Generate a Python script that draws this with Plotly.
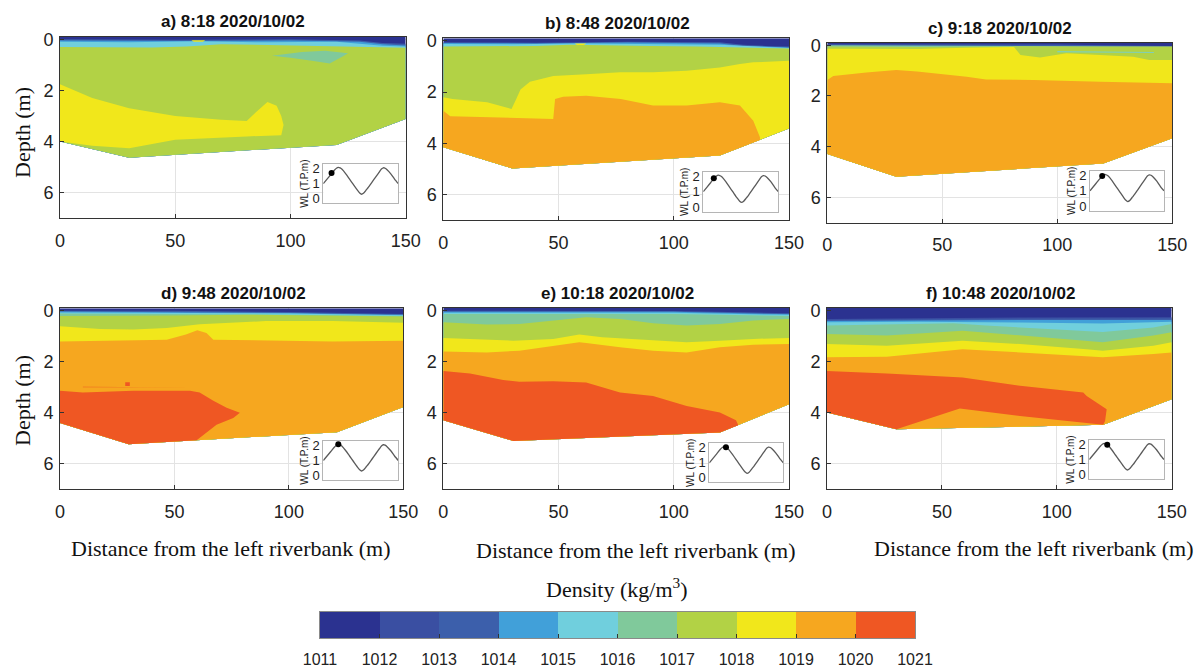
import plotly.graph_objects as go

W, H = 1203, 671          # browser window
OFF = 8                   # page body margin
FW, FH = W - OFF, H - OFF  # figure size that fits in the window
S = -0.1  # water surface (top of each section)

levels = [1011, 1012, 1013, 1014, 1015, 1016, 1017, 1018, 1019, 1020]
level_colors = ['#2b3290', '#3a4fa2', '#3c5fab', '#41a0d9', '#70cfdd',
                '#80c99b', '#b2d245', '#f1e71b', '#f6a71f', '#ef5723']
cbar_ticks = [1011, 1012, 1013, 1014, 1015, 1016, 1017, 1018, 1019, 1020, 1021]

titles = ['a) 8:18 2020/10/02', 'b) 8:48 2020/10/02', 'c) 9:18 2020/10/02',
          'd) 9:48 2020/10/02', 'e) 10:18 2020/10/02', 'f) 10:48 2020/10/02']

# tide curve shown in the insets
tide_t = [0, 1, 2, 3, 3.5, 4, 4.5, 5, 6, 7, 8, 9, 9.7, 10.2, 10.7, 11.5, 12, 13,
          14, 15, 15.5, 16, 16.5, 17, 18, 19, 20]
tide_wl = [1.0, 1.3, 1.6, 1.9, 2.02, 2.08, 2.04, 1.95, 1.65, 1.3, 0.95, 0.6, 0.38, 0.3, 0.36,
           0.6, 0.75, 1.1, 1.45, 1.8, 1.97, 2.05, 2.02, 1.92, 1.65, 1.3, 1.0]
dot_t = [2.2, 2.8, 3.3, 4.0, 4.5, 4.8]
dot_wl = [1.7, 1.88, 1.98, 2.08, 2.04, 1.98]

# river bed profiles (distance m, depth m)
bed_x_a = [0, 30, 120, 150]; bed_d_a = [4.0, 4.63, 4.13, 3.12]
bed_x_b = [0, 30, 120, 150]; bed_d_b = [4.16, 4.99, 4.48, 3.42]
bed_x_c = [0, 30, 120, 150]; bed_d_c = [4.29, 5.19, 4.66, 3.67]
bed_x_d = [0, 30, 121, 150]; bed_d_d = [4.4, 5.23, 4.76, 3.77]
bed_x_e = [0, 30.4, 120, 150]; bed_d_e = [4.3, 5.11, 4.78, 3.67]
bed_x_f = [0, 30.2, 120.2, 150]; bed_d_f = [4.0, 4.65, 4.48, 3.48]

# density regions: (level, distances, depths, extends down to the bed)
regions_a = [
    (1011, [0, 150], [S, S], True),
    (1013, [0, 50, 100, 130, 140, 150], [0.0, 0.02, 0.0, 0.05, 0.15, 0.18], True),
    (1014, [0, 50, 100, 130, 140, 150], [0.05, 0.07, 0.05, 0.1, 0.2, 0.24], True),
    (1015, [0, 30, 60, 90, 120, 140, 150], [0.1, 0.12, 0.08, 0.12, 0.1, 0.25, 0.28], True),
    (1017, [0, 20, 40, 55, 70, 90, 110, 130, 150], [0.3, 0.3, 0.32, 0.28, 0.2, 0.22, 0.25, 0.3, 0.33], True),
    (1016, [92, 105, 115, 125, 123, 117, 110, 100], [0.64, 0.5, 0.45, 0.55, 0.65, 0.95, 0.85, 0.72], False),
    (1018, [57, 63, 62, 58], [0.04, 0.04, 0.1, 0.1], False),
    (1018, [0, 5, 14, 30, 50, 70, 81, 85, 90, 94, 96, 97, 96, 81, 50, 30, 14, 0],
     [1.76, 1.95, 2.3, 2.7, 3.0, 3.15, 3.2, 2.85, 2.45, 2.6, 3.0, 3.35, 3.75, 3.8, 3.93, 4.26, 4.16, 4.0], False),
]
regions_b = [
    (1011, [0, 150], [S, S], True),
    (1013, [0, 40, 80, 120, 130, 140, 150], [0.05, 0.07, 0.03, 0.05, 0.15, 0.2, 0.22], True),
    (1014, [0, 40, 80, 120, 130, 140, 150], [0.08, 0.1, 0.06, 0.1, 0.2, 0.24, 0.26], True),
    (1015, [0, 30, 60, 90, 120, 150], [0.12, 0.13, 0.1, 0.12, 0.15, 0.28], True),
    (1017, [0, 20, 40, 55, 70, 90, 110, 130, 150], [0.22, 0.22, 0.2, 0.15, 0.18, 0.2, 0.22, 0.25, 0.3], True),
    (1018, [0, 4, 19, 29.6, 31.5, 33.5, 37.6, 47.7, 62, 76.7, 91, 105.6, 120, 128.7, 134.5, 150],
     [2.2, 2.27, 2.4, 2.66, 2.3, 1.9, 1.6, 1.37, 1.3, 1.23, 1.23, 1.17, 1.04, 0.9, 0.84, 0.78], True),
    (1018, [57, 62, 61, 58], [0.1, 0.1, 0.16, 0.16], False),
    (1019, [0, 3, 47.7, 48.5, 52, 62, 77, 91, 105.6, 120, 128.7, 134.5, 137.4, 137.4, 120, 30, 0],
     [2.73, 2.95, 3.05, 2.27, 2.18, 2.14, 2.27, 2.53, 2.53, 2.4, 2.53, 3.12, 3.77, 3.87, 4.48, 4.99, 4.16], False),
]
regions_c = [
    (1011, [0, 150], [S, S], True),
    (1013, [0, 50, 100, 120, 150], [-0.04, -0.04, -0.03, 0.0, 0.03], True),
    (1016, [0, 40, 80, 150], [0.0, 0.02, 0.02, 0.06], True),
    (1017, [0, 40, 80, 150], [0.05, 0.07, 0.05, 0.09], True),
    (1018, [0, 20, 40, 60, 80, 100, 120, 150], [0.14, 0.15, 0.15, 0.1, 0.07, 0.08, 0.08, 0.1], True),
    (1017, [81, 150, 150, 140, 133, 118.6, 104, 92.5, 84], [0.05, 0.05, 0.58, 0.58, 0.45, 0.39, 0.32, 0.48, 0.39], False),
    (1015, [100, 142, 142, 100], [0.24, 0.27, 0.3, 0.28], False),
    (1019, [0, 2.6, 17, 30, 39, 60.6, 69, 89.6, 118.6, 133, 150],
     [1.37, 1.21, 1.08, 0.98, 1.04, 1.24, 1.35, 1.37, 1.44, 1.48, 1.5], True),
]
regions_d = [
    (1011, [0, 150], [S, S], True),
    (1013, [0, 50, 100, 130, 150], [0.0, 0.0, 0.05, 0.1, 0.12], True),
    (1014, [0, 50, 100, 130, 150], [0.03, 0.05, 0.08, 0.13, 0.15], True),
    (1015, [0, 50, 100, 150], [0.06, 0.08, 0.1, 0.17], True),
    (1016, [0, 50, 100, 150], [0.1, 0.12, 0.15, 0.2], True),
    (1017, [0, 20, 50, 80, 120, 150], [0.2, 0.2, 0.18, 0.15, 0.18, 0.22], True),
    (1018, [0, 17.5, 32, 46.6, 61, 90, 119, 150], [0.6, 0.71, 0.73, 0.67, 0.53, 0.4, 0.4, 0.47], True),
    (1019, [0, 17.5, 46.6, 51, 55, 60, 64, 67, 90, 119, 150],
     [1.2, 1.17, 1.13, 1.03, 0.93, 0.76, 0.87, 1.13, 1.17, 1.2, 1.17], True),
    (1020, [10, 35, 60, 60, 35, 10], [2.975, 2.985, 2.985, 3.005, 3.0, 2.995], False),
    (1020, [28.5, 30.5, 30.5, 28.5], [2.8, 2.8, 2.95, 2.95], False),
    (1020, [0, 10, 32, 56.8, 61, 67, 72.8, 78.6, 75.7, 68.4, 59.7, 30, 0],
     [3.13, 3.2, 3.13, 3.13, 3.2, 3.53, 3.8, 4.0, 4.2, 4.47, 5.08, 5.23, 4.4], False),
]
regions_e = [
    (1011, [0, 150], [S, S], True),
    (1013, [0, 50, 100, 130, 150], [0.02, 0.03, 0.03, 0.08, 0.12], True),
    (1014, [0, 50, 100, 130, 150], [0.06, 0.06, 0.06, 0.12, 0.16], True),
    (1015, [0, 50, 100, 150], [0.1, 0.1, 0.1, 0.18], True),
    (1016, [0, 50, 100, 150], [0.15, 0.15, 0.15, 0.22], True),
    (1017, [0, 18.8, 33, 47.7, 62, 76.7, 91, 105.6, 120, 134.5, 150],
     [0.47, 0.56, 0.54, 0.4, 0.27, 0.34, 0.51, 0.6, 0.54, 0.4, 0.34], True),
    (1018, [0, 18.8, 30.4, 47.7, 59, 69, 91, 105.6, 120, 134.5, 150],
     [1.08, 1.16, 1.19, 1.12, 0.95, 1.06, 1.19, 1.25, 1.19, 1.12, 1.08], True),
    (1019, [0, 18.8, 33, 47.7, 59, 62, 76.7, 91, 105.6, 120, 134.5, 150],
     [1.61, 1.65, 1.58, 1.39, 1.25, 1.28, 1.45, 1.58, 1.65, 1.45, 1.35, 1.32], True),
    (1020, [0, 11.6, 26, 33, 47.7, 62, 76.7, 91, 105.6, 120, 127, 128, 120, 30.4, 0],
     [2.37, 2.47, 2.73, 2.8, 2.78, 2.82, 3.22, 3.35, 3.74, 4.0, 4.3, 4.5, 4.78, 5.11, 4.3], False),
]
regions_f = [
    (1011, [0, 150], [S, S], True),
    (1012, [0, 40, 84, 150], [0.34, 0.3, 0.28, 0.27], True),
    (1013, [0, 40, 84, 150], [0.38, 0.35, 0.33, 0.32], True),
    (1014, [0, 40, 84, 150], [0.42, 0.4, 0.38, 0.38], True),
    (1015, [0, 40, 84, 120, 150], [0.47, 0.45, 0.48, 0.52, 0.45], True),
    (1016, [0, 55, 69, 98, 120, 142, 150], [0.6, 0.51, 0.6, 0.75, 0.85, 0.67, 0.54], True),
    (1017, [0, 26, 59, 84, 113, 120, 142, 150], [0.93, 0.99, 0.8, 0.99, 1.19, 1.25, 0.99, 0.86], True),
    (1018, [0, 26, 59, 84, 113, 120, 142, 150], [1.32, 1.39, 1.19, 1.32, 1.52, 1.58, 1.39, 1.25], True),
    (1019, [0, 26, 59, 84, 113, 120, 142, 150], [1.84, 1.82, 1.52, 1.65, 1.78, 1.84, 1.71, 1.65], True),
    (1020, [0, 26, 59, 84, 111.5, 113, 121.7, 121, 120.2, 84, 57.8, 30.2, 0],
     [2.37, 2.47, 2.63, 2.95, 3.22, 3.35, 3.87, 4.33, 4.48, 4.13, 3.84, 4.65, 4.0], False),
]

panels = [(regions_a, bed_x_a, bed_d_a), (regions_b, bed_x_b, bed_d_b),
          (regions_c, bed_x_c, bed_d_c), (regions_d, bed_x_d, bed_d_d),
          (regions_e, bed_x_e, bed_d_e), (regions_f, bed_x_f, bed_d_f)]

# ---------------- layout geometry (window pixels) ----------------
main_boxes = [(60, 405.7, 36.7, 218.3), (443.3, 789, 38.3, 220), (827.3, 1172.3, 42.7, 222.7),
              (60, 403.3, 308.3, 489.3), (443.3, 789, 307.7, 489.3), (827, 1171.7, 307.7, 489.3)]
inset_boxes = [(323.3, 398.3, 164, 203.3), (703.3, 778.3, 171.7, 211.7), (1090, 1164, 171, 210.7),
               (323.3, 398.3, 441, 480), (709.3, 783.3, 443.3, 482.3), (1089.3, 1164, 440, 479)]
title_pos = [(233, 21.7), (617, 23.3), (1000, 28.3), (233, 293.3), (617, 293.3), (1000, 293.3)]
cbar_box = (320, 915, 612, 638)


def px2x(x):
    return (x - OFF) / FW


def px2y(y):
    return 1 - (y - OFF) / FH


def xdom(x0, x1):
    return [px2x(x0), px2x(x1)]


def ydom(top, bottom):
    return [px2y(bottom), px2y(top)]


SANS = 'Liberation Sans, Arial, sans-serif'
SERIF = 'Liberation Serif, Times New Roman, serif'
color_of = dict(zip(levels, level_colors))

fig = go.Figure()
layout = {}

for i, (regions, bx, bd) in enumerate(panels):
    n = i + 1
    xa = 'x' if n == 1 else f'x{n}'
    ya = 'y' if n == 1 else f'y{n}'
    for level, xs, ds, to_bed in regions:
        if to_bed:
            px = list(xs) + list(bx[::-1])
            py = list(ds) + list(bd[::-1])
        else:
            px, py = list(xs), list(ds)
        fig.add_trace(go.Scatter(x=px, y=py, mode='lines', fill='toself',
                                 fillcolor=color_of[level], line=dict(width=0),
                                 xaxis=xa, yaxis=ya, hoverinfo='skip', showlegend=False))
    x0, x1, t, b = main_boxes[i]
    layout['xaxis' if n == 1 else f'xaxis{n}'] = dict(
        domain=xdom(x0, x1), range=[0, 150], tickvals=[0, 50, 100, 150], automargin=False,
        showgrid=True, gridcolor='#e3e3e3', gridwidth=1, zeroline=False,
        showline=True, linecolor='#333333', linewidth=1, mirror=True,
        ticks='inside', ticklen=4, tickcolor='#333333',
        tickfont=dict(family=SANS, size=18, color='#222222'), ticklabelstandoff=6,
        anchor=ya)
    layout['yaxis' if n == 1 else f'yaxis{n}'] = dict(
        domain=ydom(t, b), range=[7, S], tickvals=[0, 2, 4, 6], automargin=False,
        showgrid=True, gridcolor='#e3e3e3', gridwidth=1, zeroline=False,
        showline=True, linecolor='#333333', linewidth=1, mirror=True,
        ticks='inside', ticklen=4, tickcolor='#333333',
        tickfont=dict(family=SANS, size=18, color='#222222'), ticklabelstandoff=2,
        anchor=xa)

# insets with the tide curve
for i in range(6):
    n = i + 7
    xa, ya = f'x{n}', f'y{n}'
    fig.add_trace(go.Scatter(x=tide_t, y=tide_wl, mode='lines',
                             line=dict(color='#5a5a5a', width=1.3, shape='spline', smoothing=0.6),
                             xaxis=xa, yaxis=ya, hoverinfo='skip', showlegend=False))
    fig.add_trace(go.Scatter(x=[dot_t[i]], y=[dot_wl[i]], mode='markers',
                             marker=dict(color='black', size=6),
                             xaxis=xa, yaxis=ya, hoverinfo='skip', showlegend=False))
    x0, x1, t, b = inset_boxes[i]
    layout[f'xaxis{n}'] = dict(domain=xdom(x0, x1), range=[0, 20], showticklabels=False,
                               automargin=False,
                               ticks='', showgrid=False, zeroline=False, showline=True,
                               linecolor='#b5b5b5', linewidth=1, mirror=True, anchor=ya)
    layout[f'yaxis{n}'] = dict(domain=ydom(t, b), range=[-0.3, 2.3], tickvals=[0, 1, 2],
                               automargin=False,
                               ticks='', showgrid=False, zeroline=False, showline=True,
                               linecolor='#b5b5b5', linewidth=1, mirror=True,
                               tickfont=dict(family=SANS, size=13, color='#222222'),
                               title=dict(text='WL (T.P.m)', font=dict(family=SANS, size=10, color='#222222'),
                                          standoff=1),
                               anchor=xa)

# colour bar
fig.add_trace(go.Bar(x=[lv + 0.5 for lv in levels], y=[1] * len(levels), width=[1] * len(levels),
                     marker=dict(color=level_colors, line=dict(width=0)),
                     xaxis='x13', yaxis='y13', hoverinfo='skip', showlegend=False))
cx0, cx1, ct, cb = cbar_box
layout['xaxis13'] = dict(domain=xdom(cx0, cx1), range=[1011, 1021], tickvals=cbar_ticks,
                         automargin=False,
                         ticks='inside', ticklen=4, tickcolor='#333333', showgrid=False,
                         zeroline=False, showline=True, linecolor='#8a8a8a', mirror=True,
                         tickfont=dict(family=SANS, size=16, color='#222222'),
                         ticklabelstandoff=7, anchor='y13')
layout['yaxis13'] = dict(domain=ydom(ct, cb), range=[0, 1], showticklabels=False, ticks='',
                         automargin=False,
                         showgrid=False, zeroline=False, showline=True, linecolor='#8a8a8a',
                         mirror=True, anchor='x13')

annotations = []
for i, txt in enumerate(titles):
    tx, ty = title_pos[i]
    annotations.append(dict(text=f'<b>{txt}</b>', x=px2x(tx), y=px2y(ty), xref='paper', yref='paper',
                            xanchor='center', yanchor='middle', showarrow=False,
                            font=dict(family=SANS, size=17, color='#111111')))
for ty in (133, 401):
    annotations.append(dict(text='Depth (m)', x=px2x(22), y=px2y(ty), xref='paper', yref='paper',
                            xanchor='center', yanchor='middle', showarrow=False, textangle=-90,
                            font=dict(family=SERIF, size=22, color='#111111')))
for tx, ty in ((230, 548), (635, 550), (1033, 548)):
    annotations.append(dict(text='Distance from the left riverbank (m)', x=px2x(tx), y=px2y(ty),
                            xref='paper', yref='paper', xanchor='center', yanchor='middle',
                            showarrow=False, font=dict(family=SERIF, size=22, color='#111111')))
annotations.append(dict(text='Density (kg/m<sup>3</sup>)', x=px2x(617), y=px2y(588), xref='paper',
                        yref='paper', xanchor='center', yanchor='middle', showarrow=False,
                        font=dict(family=SERIF, size=22, color='#111111')))

fig.update_layout(template='none', width=FW, height=FH, autosize=False,
                  margin=dict(l=0, r=0, t=0, b=0, pad=0),
                  paper_bgcolor='white', plot_bgcolor='white', bargap=0,
                  annotations=annotations, showlegend=False, **layout)

fig.write_html('out.html')
